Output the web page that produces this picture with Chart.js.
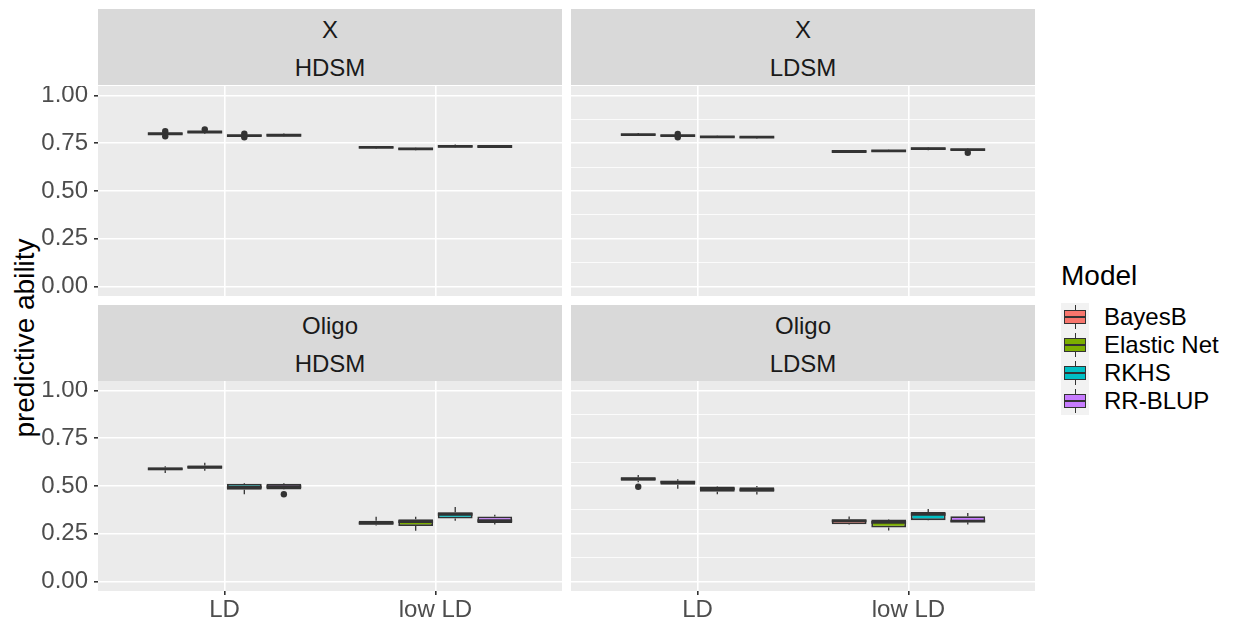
<!DOCTYPE html>
<html>
<head>
<meta charset="utf-8">
<script src="https://cdn.jsdelivr.net/npm/chart.js@4.4.0/dist/chart.umd.min.js"></script>
<style>
  body { margin: 0; width: 1237px; height: 625px; position: relative; overflow: hidden; background: #fff;
         font-family: "Liberation Sans", Arial, sans-serif; }
  canvas { position: absolute; }
  .strip { position: absolute; height: 76px; background: #D9D9D9; color: #1A1A1A; font-size: 24px; }
  .strip div { position: absolute; left: 0; right: 0; text-align: center; height: 28px; line-height: 28px; }
  .ytitle { position: absolute; left: 25px; top: 338px; transform: translate(-50%, -50%) rotate(-90deg);
            white-space: nowrap; font-size: 28px; color: #000; }
  .ltitle { position: absolute; left: 1061px; top: 258px; font-size: 28px; line-height: 36px; color: #000; }
  .key { position: absolute; left: 1061px; width: 28px; height: 28px; background: #F2F2F2; }
  .key .wh { position: absolute; left: 13.5px; top: 2px; width: 1px; height: 24px; background: #333; }
  .key .bx { position: absolute; left: 3px; top: 7px; width: 20px; height: 12px; border: 1px solid #333; }
  .key .md { position: absolute; left: 3px; top: 13px; width: 22px; height: 2px; background: #333; }
  .klabel { position: absolute; left: 1104px; font-size: 24px; height: 28px; line-height: 28px; color: #000; white-space: nowrap; }
</style>
</head>
<body>
<div class="ytitle">predictive ability</div>
<canvas id="c1" width="527" height="210" style="left:35px;top:86px"></canvas>
<canvas id="c2" width="464" height="210" style="left:571px;top:86px"></canvas>
<canvas id="c3" width="527" height="244" style="left:35px;top:381px"></canvas>
<canvas id="c4" width="464" height="244" style="left:571px;top:381px"></canvas>
<div class="ltitle">Model</div>
<script>
const models = ["BayesB", "Elastic Net", "RKHS", "RR-BLUP"];
const modelColors = ["#F8766D", "#7CAE00", "#00BFC4", "#C77CFF"];
const categories = ["LD", "low LD"];
const yTickValues = [0, 0.25, 0.5, 0.75, 1];
const yMinorBreaks = [0.125, 0.375, 0.625, 0.875];

// per model: [LD, low LD], each [lower whisker, q1, median, q3, upper whisker]
const xHdsm = [
  [[0.788, 0.794, 0.800, 0.805, 0.810], [0.722, 0.725, 0.729, 0.733, 0.735]],
  [[0.800, 0.804, 0.809, 0.813, 0.817], [0.713, 0.716, 0.721, 0.726, 0.728]],
  [[0.781, 0.785, 0.790, 0.795, 0.798], [0.726, 0.728, 0.734, 0.739, 0.743]],
  [[0.784, 0.786, 0.792, 0.799, 0.801], [0.726, 0.728, 0.733, 0.738, 0.740]]
];
const xLdsm = [
  [[0.789, 0.791, 0.795, 0.799, 0.804], [0.701, 0.703, 0.707, 0.711, 0.713]],
  [[0.783, 0.786, 0.790, 0.794, 0.796], [0.704, 0.706, 0.710, 0.714, 0.716]],
  [[0.777, 0.779, 0.783, 0.788, 0.790], [0.714, 0.716, 0.722, 0.728, 0.730]],
  [[0.775, 0.777, 0.782, 0.786, 0.788], [0.710, 0.713, 0.717, 0.721, 0.724]]
];
const oligoHdsm = [
  [[0.568, 0.582, 0.590, 0.597, 0.604], [0.293, 0.297, 0.306, 0.318, 0.339]],
  [[0.580, 0.590, 0.599, 0.607, 0.622], [0.266, 0.290, 0.313, 0.326, 0.339]],
  [[0.457, 0.481, 0.494, 0.512, 0.516], [0.318, 0.330, 0.352, 0.362, 0.390]],
  [[0.480, 0.482, 0.496, 0.512, 0.516], [0.298, 0.306, 0.318, 0.340, 0.349]]
];
const oligoLdsm = [
  [[0.520, 0.528, 0.537, 0.546, 0.557], [0.297, 0.300, 0.317, 0.326, 0.340]],
  [[0.486, 0.506, 0.520, 0.528, 0.536], [0.267, 0.283, 0.309, 0.325, 0.327]],
  [[0.457, 0.470, 0.485, 0.498, 0.500], [0.319, 0.321, 0.352, 0.364, 0.379]],
  [[0.455, 0.470, 0.480, 0.494, 0.500], [0.298, 0.310, 0.316, 0.342, 0.358]]
];

// outliers: [model index, category index, value]
const xHdsmOutliers = [[0, 0, 0.813], [0, 0, 0.787], [1, 0, 0.823], [2, 0, 0.800], [2, 0, 0.781]];
const xLdsmOutliers = [[1, 0, 0.799], [1, 0, 0.781], [3, 1, 0.700]];
const oligoHdsmOutliers = [[3, 0, 0.457]];
const oligoLdsmOutliers = [[0, 0, 0.496]];

const FONT = "'Liberation Sans', Arial, sans-serif";
const DODGE = 0.75 / models.length;
const xPos = (m, c) => c + 1 + (m - (models.length - 1) / 2) * DODGE;
const isMajor = v => yTickValues.some(t => Math.abs(t - v) < 1e-9);

// no label overflow padding, so every panel keeps the same plot area
function noPadding(s) {
  s.paddingTop = 0;
  s.paddingBottom = 0;
  s.paddingLeft = 0;
  s.paddingRight = 0;
}

// grey panel background
const panelBg = {
  id: "panelBg",
  beforeDraw(chart) {
    const a = chart.chartArea, ctx = chart.ctx;
    ctx.save();
    ctx.fillStyle = "#EBEBEB";
    ctx.fillRect(a.left, a.top, a.right - a.left, a.bottom - a.top);
    ctx.restore();
  }
};

// whiskers and medians on top of the floating-bar boxes
const boxWhiskers = {
  id: "boxWhiskers",
  afterDatasetsDraw(chart) {
    const ctx = chart.ctx, y = chart.scales.y;
    ctx.save();
    ctx.strokeStyle = "#333333";
    chart.data.datasets.forEach((ds, di) => {
      if (!ds.boxStats) return;
      chart.getDatasetMeta(di).data.forEach((bar, k) => {
        const s = ds.boxStats[k];
        const cx = bar.x, half = bar.width / 2;
        ctx.lineWidth = 1.3;
        ctx.beginPath();
        ctx.moveTo(cx, y.getPixelForValue(s[0]));
        ctx.lineTo(cx, y.getPixelForValue(s[1]));
        ctx.moveTo(cx, y.getPixelForValue(s[3]));
        ctx.lineTo(cx, y.getPixelForValue(s[4]));
        ctx.stroke();
        ctx.lineWidth = 2.8;
        ctx.beginPath();
        ctx.moveTo(cx - half, y.getPixelForValue(s[2]));
        ctx.lineTo(cx + half, y.getPixelForValue(s[2]));
        ctx.stroke();
      });
    });
    ctx.restore();
  }
};

function makePanel(id, stats, outliers, showY, showX) {
  const datasets = models.map((m, i) => ({
    type: "bar",
    label: m,
    data: categories.map((c, j) => ({ x: xPos(i, j), y: [stats[i][j][1], stats[i][j][3]] })),
    boxStats: stats[i],
    backgroundColor: modelColors[i],
    borderColor: "#333333",
    borderWidth: 1.8,
    borderSkipped: false,
    grouped: false,
    barPercentage: 0.88,
    categoryPercentage: 1
  }));
  datasets.push({
    type: "scatter",
    label: "outliers",
    data: outliers.map(o => ({ x: xPos(o[0], o[1]), y: o[2] })),
    pointRadius: 3.2,
    pointBackgroundColor: "#333333",
    pointBorderWidth: 0
  });

  new Chart(document.getElementById(id), {
    type: "bar",
    data: { datasets },
    plugins: [panelBg, boxWhiskers],
    options: {
      responsive: false,
      animation: false,
      devicePixelRatio: 1,
      layout: { padding: 0, autoPadding: false },
      plugins: { legend: { display: false }, tooltip: { enabled: false } },
      scales: {
        x: {
          type: "linear",
          min: 0.4,
          max: 2.6,
          offset: false,
          afterBuildTicks: s => { s.ticks = categories.map((c, j) => ({ value: j + 1 })); },
          afterFit: s => { s.height = showX ? 34 : 0; noPadding(s); },
          ticks: {
            display: showX,
            callback: v => categories[Math.round(v) - 1],
            color: "#4D4D4D",
            font: { size: 24, family: FONT },
            padding: 1,
            maxRotation: 0,
            autoSkip: false
          },
          grid: { offset: false, color: "#FFFFFF", lineWidth: 1.6, drawTicks: showX, tickLength: 4, tickColor: "#333333" },
          border: { display: false }
        },
        y: {
          min: -0.05,
          max: 1.05,
          afterBuildTicks: s => {
            s.ticks = yTickValues.concat(yMinorBreaks).sort((a, b) => a - b).map(v => ({ value: v }));
          },
          afterFit: s => { s.width = showY ? 63 : 0; noPadding(s); },
          ticks: {
            display: showY,
            callback: v => isMajor(v) ? v.toFixed(2) : "",
            color: "#4D4D4D",
            font: { size: 24, family: FONT },
            padding: 6
          },
          grid: {
            color: "#FFFFFF",
            lineWidth: c => isMajor(c.tick.value) ? 1.6 : 0.8,
            drawTicks: showY,
            tickLength: 4,
            tickColor: c => isMajor(c.tick.value) ? "#333333" : "rgba(0,0,0,0)"
          },
          border: { display: false }
        }
      }
    }
  });
}

makePanel("c1", xHdsm, xHdsmOutliers, true, false);
makePanel("c2", xLdsm, xLdsmOutliers, false, false);
makePanel("c3", oligoHdsm, oligoHdsmOutliers, true, true);
makePanel("c4", oligoLdsm, oligoLdsmOutliers, false, true);

// facet strips
const strips = [
  { left: 98, top: 9, lines: ["X", "HDSM"] },
  { left: 571, top: 9, lines: ["X", "LDSM"] },
  { left: 98, top: 305, lines: ["Oligo", "HDSM"] },
  { left: 571, top: 305, lines: ["Oligo", "LDSM"] }
];
strips.forEach(st => {
  const d = document.createElement("div");
  d.className = "strip";
  d.style.left = st.left + "px";
  d.style.top = st.top + "px";
  d.style.width = "464px";
  st.lines.forEach((t, i) => {
    const l = document.createElement("div");
    l.textContent = t;
    l.style.top = (i === 0 ? 7 : 45) + "px";
    d.appendChild(l);
  });
  document.body.appendChild(d);
});

// legend
models.forEach((m, i) => {
  const top = 303 + i * 28;
  const k = document.createElement("div");
  k.className = "key";
  k.style.top = top + "px";
  k.innerHTML = '<div class="wh"></div><div class="bx" style="background:' + modelColors[i] + '"></div><div class="md"></div>';
  document.body.appendChild(k);
  const l = document.createElement("div");
  l.className = "klabel";
  l.style.top = top + "px";
  l.textContent = m;
  document.body.appendChild(l);
});
</script>
</body>
</html>
